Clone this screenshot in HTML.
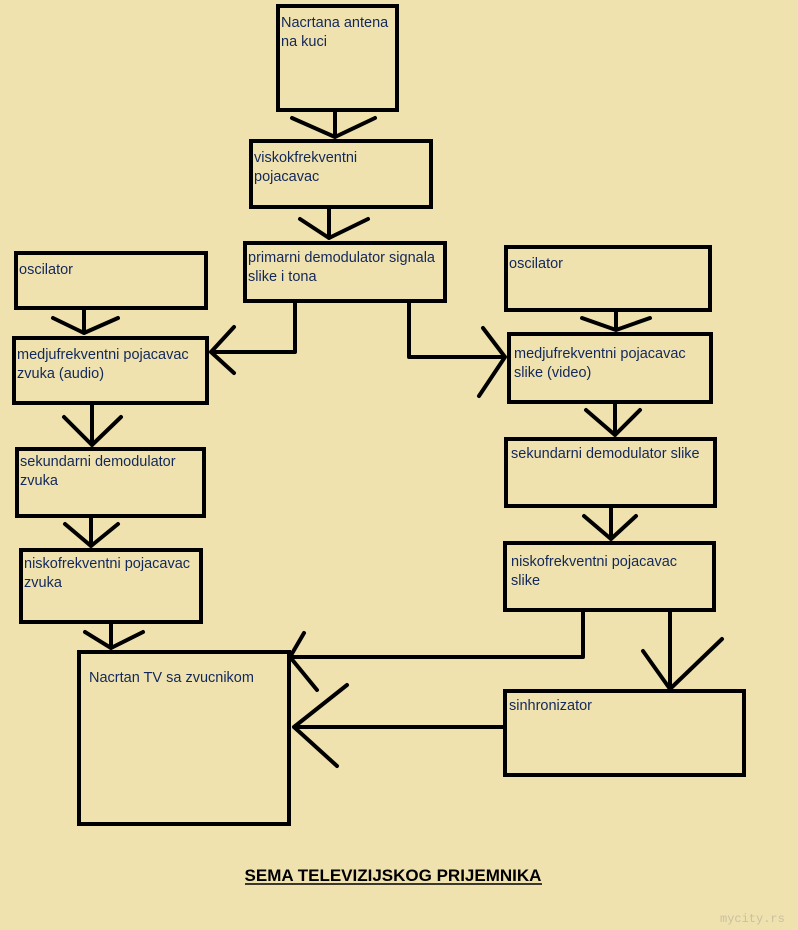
<!DOCTYPE html>
<html><head><meta charset="utf-8"><style>
html,body{margin:0;padding:0;background:#EFE2AF;}
svg{display:block}
text{font-family:"Liberation Sans",sans-serif;font-size:14.5px;fill:#13285a;}
</style></head><body>
<svg width="798" height="930" viewBox="0 0 798 930" xmlns="http://www.w3.org/2000/svg">
<rect width="798" height="930" fill="#EFE2AF"/>
<g fill="none" stroke="#000" stroke-width="4" stroke-linecap="round" stroke-linejoin="miter">
<rect x="278" y="6" width="119" height="104"/>
<rect x="251" y="141" width="180" height="66"/>
<rect x="245" y="243" width="200" height="58"/>
<rect x="16" y="253" width="190" height="55"/>
<rect x="14" y="338" width="193" height="65"/>
<rect x="17" y="449" width="187" height="67"/>
<rect x="21" y="550" width="180" height="72"/>
<rect x="79" y="652" width="210" height="172"/>
<rect x="506" y="247" width="204" height="63"/>
<rect x="509" y="334" width="202" height="68"/>
<rect x="506" y="439" width="209" height="67"/>
<rect x="505" y="543" width="209" height="67"/>
<rect x="505" y="691" width="239" height="84"/>
</g>
<g fill="none" stroke="#000" stroke-width="4" stroke-linecap="round" stroke-linejoin="round">
<path d="M335 112V137M292 118L335 137L375 118"/>
<path d="M329 209V238M300 219L329 238L368 219"/>
<path d="M295 303V352H211M234 327L211 352L234 373"/>
<path d="M409 303V357H505M483 328L505 357L479 396"/>
<path d="M84 310V333M53 318L84 333L118 318"/>
<path d="M92 405V445M64 417L92 445L121 417"/>
<path d="M91 518V546M65 524L91 546L118 524"/>
<path d="M111 624V648M85 632L111 648L143 632"/>
<path d="M616 312V330M582 318L616 330L650 318"/>
<path d="M615 404V435M586 410L615 435L640 410"/>
<path d="M611 508V539M584 516L611 539L636 516"/>
<path d="M583 612V657H290M304 633L290 657L317 690"/>
<path d="M670 612V689M643 651L670 689L722 639"/>
<path d="M505 727H294M347 685L294 727L337 766"/>
</g>
<text x="281" y="27">Nacrtana antena</text>
<text x="281" y="46">na kuci</text>
<text x="254" y="162">viskokfrekventni</text>
<text x="254" y="181">pojacavac</text>
<text x="248" y="262">primarni demodulator signala</text>
<text x="248" y="281">slike i tona</text>
<text x="19" y="274">oscilator</text>
<text x="17" y="359">medjufrekventni pojacavac</text>
<text x="17" y="378">zvuka (audio)</text>
<text x="20" y="466">sekundarni demodulator</text>
<text x="20" y="485">zvuka</text>
<text x="24" y="568">niskofrekventni pojacavac</text>
<text x="24" y="587">zvuka</text>
<text x="89" y="682">Nacrtan TV sa zvucnikom</text>
<text x="509" y="268">oscilator</text>
<text x="514" y="358">medjufrekventni pojacavac</text>
<text x="514" y="377">slike (video)</text>
<text x="511" y="458">sekundarni demodulator slike</text>
<text x="511" y="566">niskofrekventni pojacavac</text>
<text x="511" y="585">slike</text>
<text x="509" y="710">sinhronizator</text>
<text x="393" y="881" text-anchor="middle" style="font-size:17px;font-weight:bold;fill:#000">SEMA TELEVIZIJSKOG PRIJEMNIKA</text>
<line x1="245" y1="884" x2="542" y2="884" stroke="#000" stroke-width="1.5"/>
<text x="720" y="922" style="font-family:'Liberation Mono',monospace;font-size:12px;fill:#c9c0a0">mycity.rs</text>
</svg>
</body></html>
